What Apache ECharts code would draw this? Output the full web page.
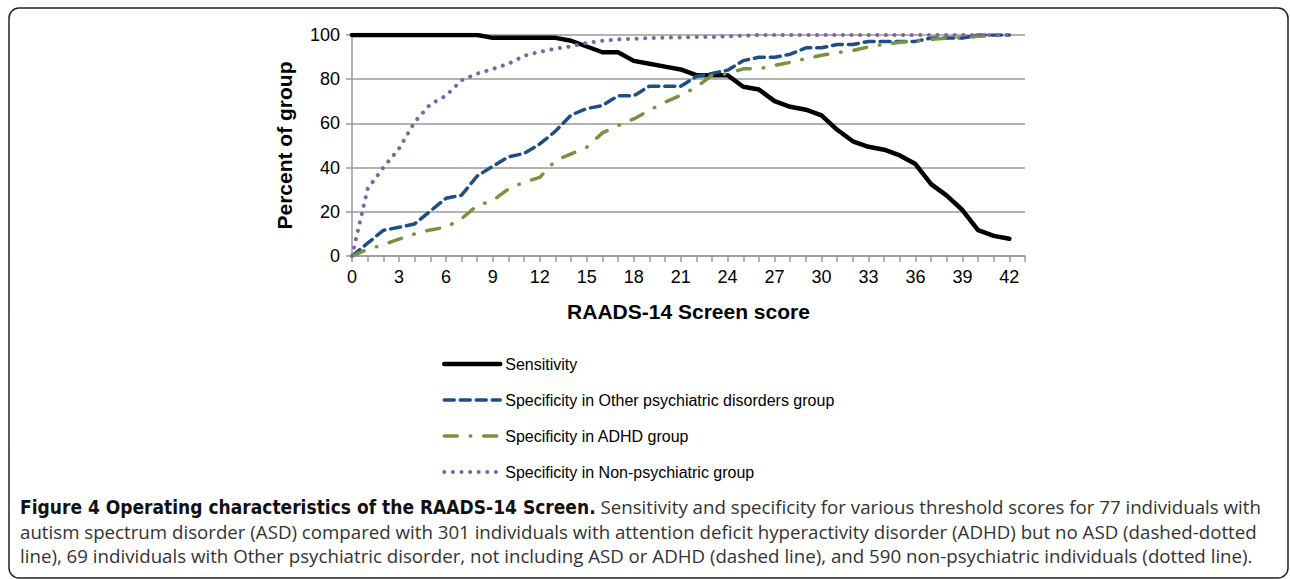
<!DOCTYPE html>
<html>
<head>
<meta charset="utf-8">
<script src="https://cdn.jsdelivr.net/npm/echarts@6/dist/echarts.min.js"></script>
<style>
  html, body { margin: 0; padding: 0; background: #fff; }
  #chart { width: 1290px; height: 579px; }
</style>
</head>
<body>
<div id="chart"></div>
<script>
// scores 0..42 (43 is an empty slot so the axis runs one step past 42, as in the figure)
const scores = []
for (let i = 0; i <= 43; i++) scores.push(String(i))

const sensitivity = [100, 100, 100, 100, 100, 100, 100, 100, 100, 98.7, 98.7, 98.7, 98.7, 98.7, 97.4, 94.8,
  92.2, 92.2, 88.3, 87.0, 85.7, 84.4, 81.8, 81.8, 81.8, 76.6, 75.3, 70.1, 67.5, 66.2, 63.6, 57.1, 51.9,
  49.4, 48.1, 45.5, 41.6, 32.5, 27.3, 20.8, 11.7, 9.1, 7.8, null]

const specOther = [0, 5.8, 11.6, 13.0, 14.5, 20.3, 26.1, 27.5, 36.2, 40.6, 44.9, 46.4, 50.7, 56.5, 63.8, 66.7,
  68.1, 72.5, 72.5, 76.8, 76.8, 76.8, 81.2, 82.6, 84.1, 88.4, 89.9, 89.9, 91.3, 94.2, 94.2, 95.7, 95.7,
  97.1, 97.1, 97.1, 97.1, 98.6, 98.6, 98.6, 100, 100, 100, null]

const specADHD = [0, 3.0, 5.1, 7.6, 10.0, 11.8, 13.0, 16.9, 22.8, 25.1, 30.4, 33.4, 35.6, 43.2, 46.2, 49.2,
  55.7, 59.0, 62.0, 65.9, 69.6, 72.7, 76.4, 81.7, 82.5, 84.7, 84.7, 86.3, 87.6, 89.3, 90.8, 92.0, 93.0,
  94.6, 95.8, 96.7, 97.3, 98.0, 98.6, 98.8, 99.4, 99.7, 99.8, null]

const specNonPsych = [0, 30.4, 40.0, 48.5, 60.6, 68.6, 72.5, 79.5, 82.5, 84.6, 87.0, 90.6, 92.4, 93.8, 94.9,
  96.4, 97.4, 98.0, 98.3, 98.6, 98.8, 98.9, 99.1, 99.1, 99.4, 99.7, 100, 100, 100, 100, 100, 100, 100,
  100, 100, 100, 100, 100, 100, 100, 100, 100, 100, null]

const seriesNames = [
  'Sensitivity',
  'Specificity in Other psychiatric disorders group',
  'Specificity in ADHD group',
  'Specificity in Non-psychiatric group'
]

const captionBold = 'Figure 4 Operating characteristics of the RAADS-14 Screen.'
const captionLines = [
  ' Sensitivity and specificity for various threshold scores for 77 individuals with',
  'autism spectrum disorder (ASD) compared with 301 individuals with attention deficit hyperactivity disorder (ADHD) but no ASD (dashed-dotted',
  'line), 69 individuals with Other psychiatric disorder, not including ASD or ADHD (dashed line), and 590 non-psychiatric individuals (dotted line).'
]

const chartFont = 'Liberation Sans, Arial, sans-serif'
const captionFont = 'Open Sans, sans-serif'
const captionBoldFont = '"Liberation Sans Narrow", "DejaVu Sans Condensed", sans-serif'
const captionSize = 18.7

const myChart = echarts.init(document.getElementById('chart'), null, { renderer: 'svg' })

const option = {
  animation: false,
  backgroundColor: '#fff',
  textStyle: { fontFamily: chartFont },
  grid: {
    left: 352,
    right: 265,
    top: 35,
    bottom: 323
  },
  legend: {
    orient: 'vertical',
    left: 437,
    top: 351,
    itemWidth: 56,
    itemHeight: 16,
    itemGap: 20,
    data: seriesNames,
    // hide the marker dot, keep the series line style
    itemStyle: { opacity: 0 },
    lineStyle: { width: 'inherit' },
    textStyle: { fontSize: 16, color: '#000', fontFamily: chartFont }
  },
  xAxis: {
    type: 'category',
    data: scores,
    boundaryGap: false,
    name: 'RAADS-14 Screen score',
    nameLocation: 'middle',
    nameGap: 45,
    nameTextStyle: { fontSize: 21, fontWeight: 'bold', color: '#000' },
    axisLine: { lineStyle: { color: '#9a9a9a', width: 1.5 } },
    axisTick: { interval: 0, length: 6, lineStyle: { color: '#9a9a9a', width: 1.5 } },
    axisLabel: { interval: 2, fontSize: 18, color: '#000', margin: 12 },
    splitLine: { show: false }
  },
  yAxis: {
    type: 'value',
    min: 0,
    max: 100,
    interval: 20,
    name: 'Percent of group',
    nameLocation: 'middle',
    nameGap: 57,
    nameTextStyle: { fontSize: 21, fontWeight: 'bold', color: '#000' },
    axisLine: { show: true, lineStyle: { color: '#9a9a9a', width: 1.5 } },
    axisTick: { show: true, length: 6, lineStyle: { color: '#9a9a9a', width: 1.5 } },
    axisLabel: { fontSize: 18, color: '#000', margin: 12 },
    splitLine: { lineStyle: { color: '#9a9a9a', width: 1.5 } }
  },
  series: [
    {
      name: seriesNames[0],
      type: 'line',
      data: sensitivity,
      symbol: 'none',
      color: '#000',
      lineStyle: { color: '#000', width: 4.5, cap: 'round', join: 'round' }
    },
    {
      name: seriesNames[1],
      type: 'line',
      data: specOther,
      symbol: 'none',
      color: '#1f4e85',
      lineStyle: { color: '#1f4e85', width: 3.5, type: [10, 6], cap: 'round' }
    },
    {
      name: seriesNames[2],
      type: 'line',
      data: specADHD,
      symbol: 'none',
      color: '#77933c',
      lineStyle: { color: '#77933c', width: 3.5, type: [13, 13, 0.5, 13], cap: 'round' }
    },
    {
      name: seriesNames[3],
      type: 'line',
      data: specNonPsych,
      symbol: 'none',
      color: '#8064a2',
      lineStyle: { color: '#8064a2', width: 4, type: [0.1, 8.5], cap: 'round' }
    }
  ],
  graphic: [
    {
      // rounded frame around figure + caption
      type: 'rect',
      silent: true,
      shape: { x: 9, y: 8, width: 1279, height: 570, r: 10 },
      style: { fill: 'none', stroke: '#222', lineWidth: 1.5 }
    },
    {
      type: 'text',
      left: 20,
      top: 497,
      style: {
        text: '{b|' + captionBold + '}{n|' + captionLines[0] + '}',
        rich: {
          b: { font: 'bold 19px ' + captionBoldFont, fill: '#111' },
          n: { font: captionSize + 'px ' + captionFont, fill: '#333' }
        }
      }
    },
    {
      type: 'text',
      left: 20,
      top: 522,
      style: { text: captionLines[1], font: captionSize + 'px ' + captionFont, fill: '#333' }
    },
    {
      type: 'text',
      left: 20,
      top: 546,
      style: { text: captionLines[2], font: captionSize + 'px ' + captionFont, fill: '#333' }
    }
  ]
}

myChart.setOption(option)
window.addEventListener('resize', () => {
  myChart.resize()
})
</script>
</body>
</html>
